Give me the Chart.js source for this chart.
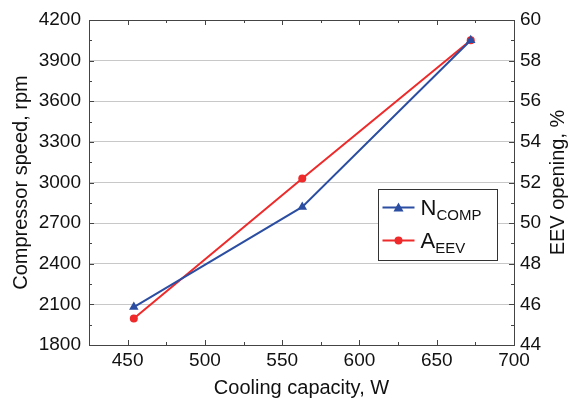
<!DOCTYPE html>
<html>
<head>
<meta charset="utf-8">
<script src="https://cdn.jsdelivr.net/npm/chart.js@4.4.1/dist/chart.umd.min.js"></script>
<style>
  html, body { margin: 0; padding: 0; background: #fff; }
  #wrap { width: 570px; height: 403px; }
</style>
</head>
<body>
<div id="wrap"><canvas id="chart" width="570" height="403"></canvas></div>
<script>
// data
const capacity = [454, 563, 672];
const compSpeed = [2080, 2820, 4050];
const eevOpening = [45.3, 52.2, 59.0];
const seriesNames = [['N', 'COMP'], ['A', 'EEV']];
const rightTitle = 'EEV opening, %';

const BLUE = '#2b4ea2';
const RED = '#ee2a2a';
const AXIS = '#444';
const FONT = 'Liberation Sans, Arial, Helvetica, sans-serif';

// inward ticks on all four sides + top border + right title
const innerTicks = {
  id: 'innerTicks',
  afterDraw(chart) {
    const { ctx, chartArea: a, scales } = chart;
    ctx.save();
    ctx.strokeStyle = AXIS;
    ctx.lineWidth = 1;
    ctx.beginPath();
    ctx.moveTo(a.left, a.top + 0.5);
    ctx.lineTo(a.right, a.top + 0.5);
    ctx.stroke();
    ctx.beginPath();
    for (let v = 450; v < 700; v += 25) {
      const x = Math.round(scales.x.getPixelForValue(v)) + 0.5;
      const len = v % 50 === 0 ? 5 : 3;
      ctx.moveTo(x, a.bottom); ctx.lineTo(x, a.bottom - len);
      ctx.moveTo(x, a.top); ctx.lineTo(x, a.top + len);
    }
    for (let v = 1950; v < 4200; v += 150) {
      const y = Math.round(scales.yL.getPixelForValue(v)) + 0.5;
      const len = v % 300 === 0 ? 5 : 3;
      ctx.moveTo(a.left, y); ctx.lineTo(a.left + len, y);
    }
    for (let v = 45; v < 60; v += 1) {
      const y = Math.round(scales.yR.getPixelForValue(v)) + 0.5;
      const len = v % 2 === 0 ? 5 : 3;
      ctx.moveTo(a.right, y); ctx.lineTo(a.right - len, y);
    }
    ctx.stroke();

    ctx.translate(558, (a.top + a.bottom) / 2);
    ctx.rotate(-Math.PI / 2);
    ctx.fillStyle = '#111';
    ctx.font = '20px ' + FONT;
    ctx.textAlign = 'center';
    ctx.textBaseline = 'middle';
    ctx.fillText(rightTitle, 0, 0);
    ctx.restore();
  }
};

// legend with subscripts
const subLegend = {
  id: 'subLegend',
  afterDraw(chart) {
    const { ctx } = chart;
    const bx = 378.5, by = 189.5, bw = 119, bh = 71;
    ctx.save();
    ctx.fillStyle = '#fff';
    ctx.fillRect(bx, by, bw, bh);
    ctx.strokeStyle = '#333';
    ctx.lineWidth = 1;
    ctx.strokeRect(bx, by, bw, bh);
    const rows = [by + 18, by + 51];
    chart.data.datasets.forEach((ds, i) => {
      const y = rows[i];
      ctx.strokeStyle = ds.borderColor;
      ctx.lineWidth = 2;
      ctx.beginPath();
      ctx.moveTo(bx + 4, y); ctx.lineTo(bx + 36, y);
      ctx.stroke();
      ctx.fillStyle = ds.borderColor;
      ctx.beginPath();
      const cx = bx + 20;
      if (ds.pointStyle === 'triangle') {
        ctx.moveTo(cx, y - 5); ctx.lineTo(cx + 5, y + 4); ctx.lineTo(cx - 5, y + 4);
        ctx.closePath();
      } else {
        ctx.arc(cx, y, 4, 0, Math.PI * 2);
      }
      ctx.fill();
      const [base, sub] = seriesNames[i];
      ctx.fillStyle = '#111';
      ctx.textBaseline = 'alphabetic';
      ctx.font = '22px ' + FONT;
      ctx.fillText(base, bx + 42, y + 7);
      const w = ctx.measureText(base).width;
      ctx.font = '15px ' + FONT;
      ctx.fillText(sub, bx + 42 + w, y + 12);
    });
    ctx.restore();
  }
};

const tickFont = { family: FONT, size: 19 };
const titleFont = { family: FONT, size: 20 };
const plain = v => String(v);

new Chart(document.getElementById('chart').getContext('2d'), {
  type: 'line',
  data: {
    datasets: [{
      label: 'N_COMP',
      data: capacity.map((x, i) => ({ x, y: compSpeed[i] })),
      yAxisID: 'yL',
      borderColor: BLUE,
      backgroundColor: BLUE,
      borderWidth: 2,
      pointStyle: 'triangle',
      pointRadius: 5.5,
      pointBorderWidth: 0,
      tension: 0
    }, {
      label: 'A_EEV',
      data: capacity.map((x, i) => ({ x, y: eevOpening[i] })),
      yAxisID: 'yR',
      borderColor: RED,
      backgroundColor: RED,
      borderWidth: 2,
      pointStyle: 'circle',
      pointRadius: 4,
      pointBorderWidth: 0,
      tension: 0
    }]
  },
  options: {
    responsive: false,
    animation: false,
    layout: { padding: { top: 20, left: 0, right: 0, bottom: 0 } },
    plugins: { legend: { display: false }, tooltip: { enabled: false } },
    scales: {
      x: {
        type: 'linear',
        min: 425, max: 700,
        afterFit(s) { s.height = 58; },
        afterBuildTicks(s) { s.ticks = [450, 500, 550, 600, 650, 700].map(v => ({ value: v })); },
        grid: { display: false, drawTicks: false },
        border: { display: true, color: AXIS, width: 1 },
        ticks: { font: tickFont, color: '#111', padding: 4, maxRotation: 0, callback: plain },
        title: { display: true, text: 'Cooling capacity, W', font: titleFont, color: '#111', padding: { top: 2, bottom: 3 } }
      },
      yL: {
        position: 'left',
        min: 1800, max: 4200,
        afterFit(s) { s.width = 89; },
        ticks: { stepSize: 300, font: tickFont, color: '#111', padding: 8, callback: plain },
        grid: { display: true, color: '#c8c8c8', lineWidth: 1, drawTicks: false },
        border: { display: true, color: AXIS, width: 1 },
        title: { display: true, text: 'Compressor speed, rpm', font: titleFont, color: '#111', padding: { top: 9, bottom: 2 } }
      },
      yR: {
        position: 'right',
        min: 44, max: 60,
        afterFit(s) { s.width = 56; },
        ticks: { stepSize: 2, font: tickFont, color: '#111', padding: 6, callback: plain },
        grid: { display: false, drawTicks: false },
        border: { display: true, color: AXIS, width: 1 },
        title: { display: false }
      }
    }
  },
  plugins: [innerTicks, subLegend]
});
</script>
</body>
</html>
